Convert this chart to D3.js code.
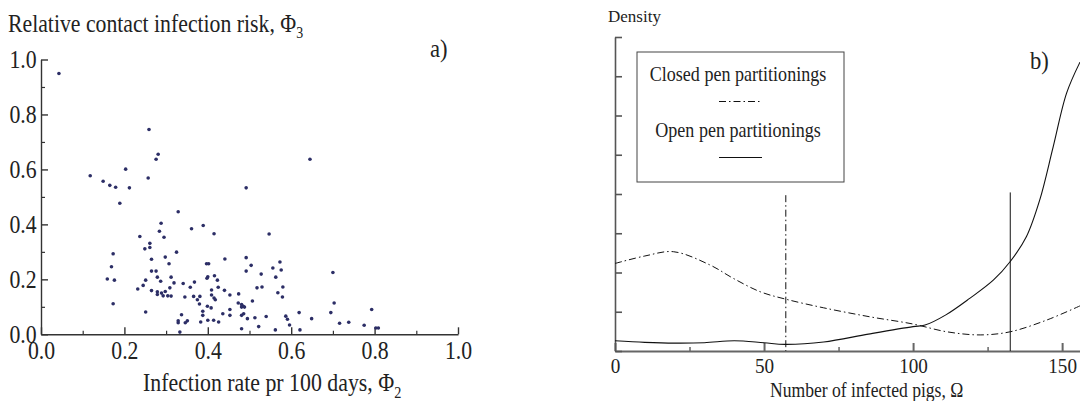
<!DOCTYPE html>
<html>
<head>
<meta charset="utf-8">
<script src="https://cdn.jsdelivr.net/npm/d3@7"></script>
<style>
  body { margin: 0; background: #fff; }
  svg { display: block; }
</style>
</head>
<body>
<div id="chart"></div>
<script>

//Panel a) scatter: [infection rate pr 100 days, relative contact infection risk]
var scatterPoints = [
    [0.043, 0.949], [0.259, 0.745], [0.281, 0.655], [0.276, 0.637], [0.118, 0.577],
    [0.203, 0.601], [0.149, 0.557], [0.165, 0.542], [0.179, 0.535], [0.212, 0.533],
    [0.257, 0.569], [0.189, 0.477], [0.492, 0.533], [0.329, 0.446], [0.288, 0.404],
    [0.284, 0.375], [0.361, 0.384], [0.389, 0.396], [0.415, 0.366], [0.237, 0.356],
    [0.295, 0.353], [0.261, 0.331], [0.249, 0.311], [0.261, 0.316], [0.325, 0.299],
    [0.173, 0.293], [0.265, 0.273], [0.298, 0.281], [0.441, 0.274], [0.492, 0.279],
    [0.307, 0.257], [0.397, 0.257], [0.402, 0.257], [0.169, 0.246], [0.265, 0.230],
    [0.276, 0.230], [0.492, 0.230], [0.279, 0.208], [0.312, 0.208], [0.400, 0.209],
    [0.416, 0.213], [0.159, 0.201], [0.176, 0.197], [0.251, 0.197], [0.423, 0.197],
    [0.645, 0.637], [0.547, 0.365], [0.504, 0.251], [0.528, 0.219], [0.556, 0.241],
    [0.573, 0.263], [0.576, 0.234], [0.563, 0.208], [0.700, 0.225], [0.398, 0.204],
    [0.287, 0.193], [0.245, 0.178], [0.232, 0.165], [0.265, 0.159], [0.279, 0.155],
    [0.279, 0.145], [0.289, 0.150], [0.293, 0.140], [0.298, 0.156], [0.304, 0.140],
    [0.312, 0.139], [0.309, 0.169], [0.319, 0.187], [0.341, 0.185], [0.358, 0.171],
    [0.368, 0.190], [0.345, 0.136], [0.366, 0.138], [0.375, 0.126], [0.381, 0.138],
    [0.380, 0.110], [0.425, 0.171], [0.409, 0.161], [0.409, 0.143], [0.415, 0.132],
    [0.418, 0.126], [0.440, 0.160], [0.453, 0.143], [0.474, 0.147], [0.473, 0.114],
    [0.481, 0.108], [0.485, 0.102], [0.481, 0.099], [0.488, 0.099], [0.453, 0.090],
    [0.453, 0.069], [0.436, 0.075], [0.399, 0.102], [0.408, 0.096], [0.388, 0.084],
    [0.388, 0.069], [0.400, 0.051], [0.414, 0.051], [0.426, 0.045], [0.383, 0.045],
    [0.481, 0.069], [0.486, 0.075], [0.495, 0.057], [0.481, 0.020], [0.251, 0.081],
    [0.173, 0.111], [0.337, 0.071], [0.329, 0.049], [0.329, 0.042], [0.346, 0.042],
    [0.351, 0.049], [0.333, 0.008], [0.518, 0.169], [0.530, 0.172], [0.580, 0.172],
    [0.568, 0.151], [0.579, 0.136], [0.507, 0.121], [0.703, 0.114], [0.513, 0.060],
    [0.540, 0.065], [0.587, 0.066], [0.591, 0.055], [0.619, 0.079], [0.695, 0.079],
    [0.793, 0.090], [0.649, 0.057], [0.596, 0.034], [0.522, 0.028], [0.562, 0.016],
    [0.621, 0.016], [0.716, 0.040], [0.738, 0.044], [0.775, 0.033], [0.803, 0.023],
    [0.809, 0.023]
];
var scatterMajorTicks = [0, 0.2, 0.4, 0.6, 0.8, 1.0];
var scatterMinorTicks = [0.1, 0.3, 0.5, 0.7, 0.9];

//Panel b) densities (y in units of one axis tick)
var closedOmega   = [0, 10, 19.6, 31.9, 39.7, 48.7, 57.3, 70, 85.6, 99.8, 111.3, 122.5, 132.6, 144.9, 156];
var closedDensity = [2.23, 2.42, 2.53, 2.19, 1.85, 1.51, 1.32, 1.10, 0.87, 0.69, 0.49, 0.41, 0.49, 0.79, 1.15];
var openOmega     = [0, 10, 20, 30, 40, 50, 57, 70, 85, 100, 104, 111, 119, 127, 132.6, 138, 142.5, 147, 151.5, 156];
var openDensity   = [0.26, 0.22, 0.20, 0.21, 0.26, 0.21, 0.17, 0.23, 0.43, 0.62, 0.66, 0.92, 1.34, 1.81, 2.28, 2.91, 3.85, 5.20, 6.57, 7.36];
var closedMean = 57.3;
var openMean = 132.6;
var meanLineTop = 3.97;
var omegaMajorTicks = [0, 50, 100, 150];
var omegaMinorTicks = [25, 75, 125];
var densityTicks = [0, 1, 2, 3, 4, 5, 6, 7, 8];

var w = 1080;
var h = 401;
var serif = "'Liberation Serif', 'Times New Roman', serif";
var squeeze = 0.87;
var dotColor = "#2c2e66";
var inkColor = "#222";

var svg = d3.select("#chart")
            .append("svg")
            .attr("width", w)
            .attr("height", h);

//Text helper, condensed like the original typesetting
function addText(parent, str, x, y, size, anchor, sx) {
    return parent.append("text")
        .attr("transform", "translate(" + x + "," + y + ") scale(" + sx + ",1)")
        .attr("font-family", serif)
        .attr("font-size", size)
        .attr("text-anchor", anchor)
        .attr("fill", inkColor)
        .text(str);
}

function styleTicks(g, size, color, width) {
    g.attr("font-family", serif)
     .attr("font-size", size);
    g.selectAll("text")
     .attr("fill", inkColor)
     .attr("transform", "scale(" + squeeze + ",1)");
    g.selectAll("line, path")
     .attr("stroke", color)
     .attr("stroke-width", width);
}

// ---------- Panel a) ----------
var x1 = d3.scaleLinear().domain([0, 1]).range([41, 458]);
var y1 = d3.scaleLinear().domain([0, 1]).range([334.3, 59.5]);

svg.append("g")
    .attr("transform", "translate(0," + y1(0) + ")")
    .call(d3.axisBottom(x1).tickValues(scatterMinorTicks).tickSize(-3.5).tickSizeOuter(0).tickFormat(""))
    .call(g => g.select(".domain").remove())
    .call(g => styleTicks(g, 25, "#333", 1.2));

svg.append("g")
    .attr("transform", "translate(" + x1(0) + ",0)")
    .call(d3.axisLeft(y1).tickValues(scatterMinorTicks).tickSize(-4).tickSizeOuter(0).tickFormat(""))
    .call(g => g.select(".domain").remove())
    .call(g => styleTicks(g, 25, "#333", 1.2));

svg.append("g")
    .attr("transform", "translate(0," + y1(0) + ")")
    .call(d3.axisBottom(x1).tickValues(scatterMajorTicks).tickSize(-7).tickSizeOuter(0)
            .tickPadding(7).tickFormat(d3.format(".1f")))
    .call(g => styleTicks(g, 25, "#333", 1.4));

svg.append("g")
    .attr("transform", "translate(" + x1(0) + ",0)")
    .call(d3.axisLeft(y1).tickValues(scatterMajorTicks).tickSize(-7).tickSizeOuter(0)
            .tickPadding(5).tickFormat(d3.format(".1f")))
    .call(g => styleTicks(g, 25, "#333", 1.4));

svg.append("g")
    .selectAll("circle")
    .data(scatterPoints)
    .join("circle")
    .attr("cx", d => x1(d[0]))
    .attr("cy", d => y1(d[1]))
    .attr("r", 1.8)
    .attr("fill", dotColor);

//Titles of panel a)
var t1 = addText(svg, "Relative contact infection risk, Φ", 8, 31.5, 25, "start", squeeze);
t1.append("tspan").attr("font-size", 16).attr("dy", 6).text("3");

var t2 = addText(svg, "Infection rate pr 100 days, Φ", 143, 391, 26, "start", 0.84);
t2.append("tspan").attr("font-size", 17).attr("dy", 7).text("2");

addText(svg, "a)", 430, 57, 26, "start", squeeze);

// ---------- Panel b) ----------
var x2 = d3.scaleLinear().domain([0, 156]).range([615, 1080]);
var y2 = d3.scaleLinear().domain([0, 8]).range([351, 37]);

svg.append("g")
    .attr("transform", "translate(0," + y2(0) + ")")
    .call(d3.axisBottom(x2).tickValues(omegaMinorTicks).tickSize(-4).tickSizeOuter(0).tickFormat(""))
    .call(g => g.select(".domain").remove())
    .call(g => styleTicks(g, 22, "#666", 1.5));

svg.append("g")
    .attr("transform", "translate(0," + y2(0) + ")")
    .call(d3.axisBottom(x2).tickValues(omegaMajorTicks).tickSize(-8).tickSizeOuter(0)
            .tickPadding(6).tickFormat(d3.format("d")))
    .call(g => styleTicks(g, 22, "#666", 2));

svg.append("g")
    .attr("transform", "translate(" + x2(0) + ",0)")
    .call(d3.axisLeft(y2).tickValues(densityTicks).tickSize(-7).tickSizeOuter(0).tickFormat(""))
    .call(g => styleTicks(g, 22, "#555", 1.6));

svg.append("clipPath").attr("id", "plotB")
    .append("rect")
    .attr("x", x2(0)).attr("y", y2(8))
    .attr("width", x2(156) - x2(0)).attr("height", y2(0) - y2(8));

var line = d3.line()
    .x(d => x2(d[0]))
    .y(d => y2(d[1]))
    .curve(d3.curveCatmullRom.alpha(0.5));

var dashDot = "7,3,1.5,3";

svg.append("path")
    .datum(d3.zip(closedOmega, closedDensity))
    .attr("clip-path", "url(#plotB)")
    .attr("d", line)
    .attr("fill", "none")
    .attr("stroke", "#111")
    .attr("stroke-width", 1)
    .attr("stroke-dasharray", dashDot);

svg.append("path")
    .datum(d3.zip(openOmega, openDensity))
    .attr("clip-path", "url(#plotB)")
    .attr("d", line)
    .attr("fill", "none")
    .attr("stroke", "#111")
    .attr("stroke-width", 1.1);

//Mean lines
svg.append("line")
    .attr("x1", x2(closedMean)).attr("x2", x2(closedMean))
    .attr("y1", y2(meanLineTop)).attr("y2", y2(0))
    .attr("stroke", "#111")
    .attr("stroke-width", 1)
    .attr("stroke-dasharray", dashDot);

svg.append("line")
    .attr("x1", x2(openMean)).attr("x2", x2(openMean))
    .attr("y1", y2(meanLineTop + 0.07)).attr("y2", y2(0))
    .attr("stroke", "#111")
    .attr("stroke-width", 1);

//Legend
var legend = svg.append("g");
legend.append("rect")
    .attr("x", 637).attr("y", 52)
    .attr("width", 207).attr("height", 130)
    .attr("fill", "none")
    .attr("stroke", "#444")
    .attr("stroke-width", 1);
addText(legend, "Closed pen partitionings", 738, 81, 21, "middle", 0.86);
legend.append("line")
    .attr("x1", 719).attr("x2", 762).attr("y1", 101.5).attr("y2", 101.5)
    .attr("stroke", "#111").attr("stroke-dasharray", dashDot);
addText(legend, "Open pen partitionings", 738, 137, 21, "middle", 0.86);
legend.append("line")
    .attr("x1", 719).attr("x2", 762).attr("y1", 157.5).attr("y2", 157.5)
    .attr("stroke", "#111");

//Titles of panel b)
addText(svg, "Density", 608, 22, 17, "start", 1);
addText(svg, "Number of infected pigs,  Ω", 770, 397, 20, "start", 0.88);
addText(svg, "b)", 1030, 69, 26, "start", squeeze);

</script>
</body>
</html>
